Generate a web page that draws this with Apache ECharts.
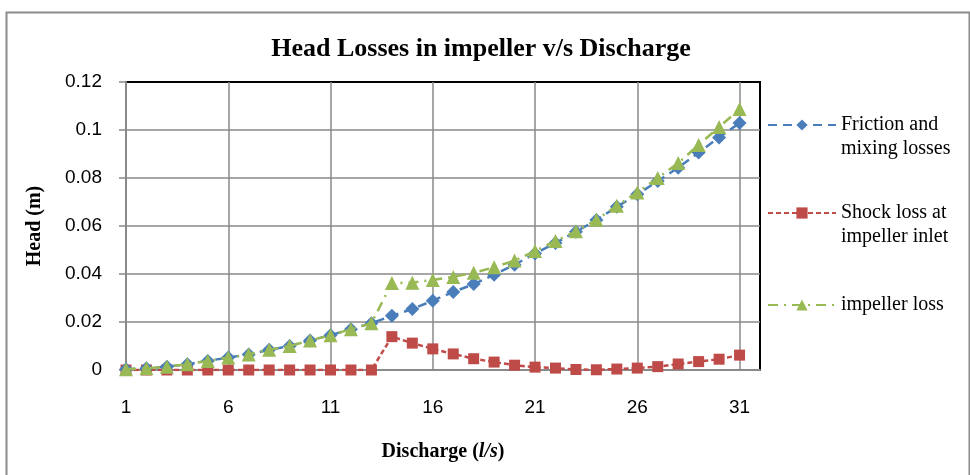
<!DOCTYPE html>
<html>
<head>
<meta charset="utf-8">
<title>Head Losses in impeller v/s Discharge</title>
<script src="https://cdn.jsdelivr.net/npm/echarts@6/dist/echarts.min.js"></script>
<style>
    html, body {margin: 0; padding: 0; background: #fff;}
    #headLossChart {width: 970px; height: 475px;}
</style>
</head>
<body>
<div id="headLossChart"></div>
<script>
"use strict";
// 流量 (l/s)
var discharge = [1, 2, 3, 4, 5, 6, 7, 8, 9, 10, 11, 12, 13, 14, 15, 16, 17, 18, 19, 20, 21, 22, 23, 24, 25, 26, 27, 28, 29, 30, 31];
var frictionLoss = [0.0003, 0.0007, 0.0014, 0.0024, 0.0038, 0.0052, 0.0065, 0.0084, 0.0100, 0.0123, 0.0145, 0.0170, 0.0195,
    0.0226, 0.0254, 0.0289, 0.0325, 0.0358, 0.0397, 0.0439, 0.0485, 0.0529, 0.0576, 0.0625, 0.0680, 0.0732, 0.0787, 0.0843, 0.0906, 0.0969, 0.1029];
var shockLoss = [0, 0, 0, 0, 0, 0, 0, 0, 0, 0, 0, 0, 0,
    0.0139, 0.0112, 0.0088, 0.0067, 0.0047, 0.0033, 0.0020, 0.0012, 0.0008, 0.0002, 0.0001, 0.0004, 0.0008, 0.0014, 0.0025, 0.0035, 0.0045, 0.0062];
var impellerLoss = [0.0003, 0.0007, 0.0014, 0.0024, 0.0038, 0.0052, 0.0065, 0.0084, 0.0100, 0.0123, 0.0145, 0.0170, 0.0195,
    0.0362, 0.0364, 0.0375, 0.0388, 0.0405, 0.0428, 0.0456, 0.0496, 0.0537, 0.0578, 0.0626, 0.0684, 0.0740, 0.0800, 0.0862, 0.0938, 0.1012, 0.1087];
var seriesNames = ['Friction and\nmixing losses', 'Shock loss at\nimpeller inlet', 'impeller loss'];

var serifFont = '"Liberation Serif", "Times New Roman", serif';
var sansFont = '"Liberation Sans", Arial, sans-serif';
var gridColor = '#8a8a8a';

// 末尾多留一格空位, 与原图右侧留白一致
var categoryData = discharge.map(String).concat(['']);

// 两行图例: 前面补一空行, 让图标对齐第一行文字
function legendFor(name, top, twoLines) {
    return {
        data: [name],
        orient: 'vertical',
        left: 767,
        top: top,
        padding: 0,
        itemWidth: 68,
        itemHeight: 14,
        itemGap: 8,
        formatter: function (n) {
            return twoLines ? ' \n' + n : n;
        },
        textStyle: {fontFamily: serifFont, fontSize: 20, color: '#000', lineHeight: 24}
    };
}

var headLossChartOption = {
    animation: false,
    title: {
        text: 'Head Losses in impeller v/s Discharge',
        left: 476,
        textAlign: 'center',
        top: 31,
        textStyle: {fontFamily: serifFont, fontSize: 26, fontWeight: 'bold', color: '#000'}
    },
    legend: [
        legendFor(seriesNames[0], 89, true),
        legendFor(seriesNames[1], 177, true),
        legendFor(seriesNames[2], 293, false)
    ],
    graphic: [{
        type: 'rect',
        left: 4, top: 10,
        shape: {width: 963, height: 475},
        style: {fill: 'none', stroke: '#8c8c8c', lineWidth: 2},
        silent: true
    }],
    grid: {
        left: 126, right: 210, top: 82, bottom: 105,
        show: true, borderColor: '#000', borderWidth: 2, backgroundColor: '#fff'
    },
    xAxis: {
        type: 'category',
        boundaryGap: false,
        data: categoryData,
        name: '{b|Discharge (}{i|l/s}{b|)}',
        nameLocation: 'middle',
        nameGap: 72,
        nameTextStyle: {
            rich: {
                b: {fontFamily: serifFont, fontSize: 20, fontWeight: 'bold', color: '#000'},
                i: {fontFamily: serifFont, fontSize: 20, fontWeight: 'bold', fontStyle: 'italic', color: '#000'}
            }
        },
        axisLine: {lineStyle: {color: gridColor, width: 2}},
        axisTick: {show: false},
        axisLabel: {interval: 4, margin: 28, fontFamily: sansFont, fontSize: 19, color: '#000'},
        splitLine: {show: true, interval: 4, showMinLine: false, lineStyle: {color: gridColor, width: 1.5}}
    },
    yAxis: {
        type: 'value',
        min: 0,
        max: 0.12,
        interval: 0.02,
        name: 'Head (m)',
        nameLocation: 'middle',
        nameGap: 81,
        nameTextStyle: {fontFamily: serifFont, fontSize: 20, fontWeight: 'bold', color: '#000'},
        axisLine: {show: true, lineStyle: {color: gridColor, width: 2}},
        axisTick: {show: true, length: 7, lineStyle: {color: gridColor, width: 1.5}},
        axisLabel: {margin: 24, fontFamily: sansFont, fontSize: 19, color: '#000'},
        splitLine: {showMinLine: false, showMaxLine: false, lineStyle: {color: gridColor, width: 1.5}}
    },
    series: [
        {
            name: seriesNames[0],
            type: 'line',
            data: frictionLoss,
            symbol: 'diamond',
            symbolSize: 14,
            showAllSymbol: true,
            color: '#4A7EBB',
            lineStyle: {width: 2.5, type: [9, 6]},
            z: 3
        },
        {
            name: seriesNames[1],
            type: 'line',
            data: shockLoss,
            symbol: 'rect',
            symbolSize: 11,
            showAllSymbol: true,
            color: '#BE4B48',
            lineStyle: {width: 2.5, type: [5, 3]},
            z: 2
        },
        {
            name: seriesNames[2],
            type: 'line',
            data: impellerLoss,
            symbol: 'triangle',
            symbolSize: 14,
            showAllSymbol: true,
            color: '#98B954',
            lineStyle: {width: 2.5, type: [10, 6, 2, 6]},
            z: 4
        }
    ]
};

function initHeadLossChart() {
    var headLossChart = echarts.init(document.getElementById('headLossChart'));
    headLossChart.setOption(headLossChartOption);
}

initHeadLossChart();
</script>
</body>
</html>
